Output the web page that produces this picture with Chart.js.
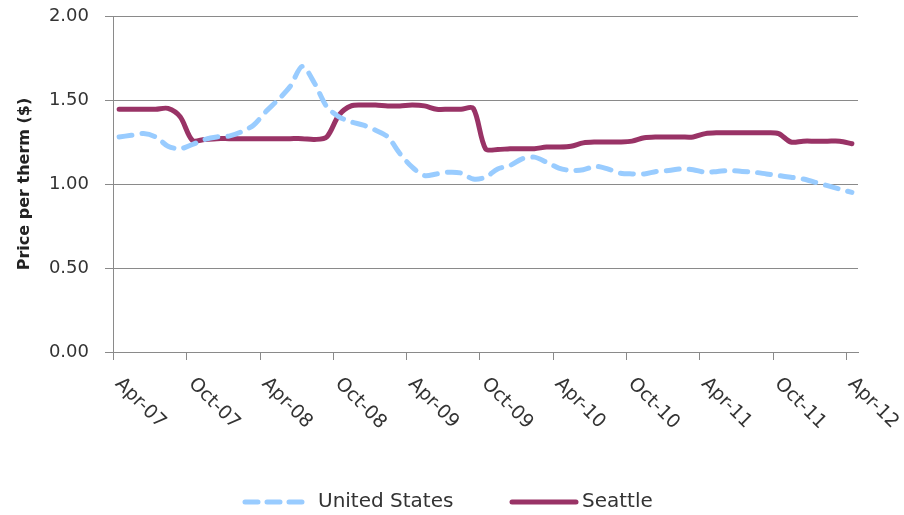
<!DOCTYPE html>
<html>
<head>
    <title>Price per therm</title>
    <script src="https://cdn.jsdelivr.net/npm/chart.js"></script>
    <style>
      body { margin:0; background:#fff; }
      #wrap { width:904px; height:515px; position:relative; }
    </style>
</head>
<body>
  <div id="wrap"><canvas id="lineChart"></canvas></div>
  <script>
    // monthly categories, Apr-07 .. Apr-12
    const months = [
      'Apr-07','May-07','Jun-07','Jul-07','Aug-07','Sep-07','Oct-07','Nov-07','Dec-07','Jan-08','Feb-08','Mar-08',
      'Apr-08','May-08','Jun-08','Jul-08','Aug-08','Sep-08','Oct-08','Nov-08','Dec-08','Jan-09','Feb-09','Mar-09',
      'Apr-09','May-09','Jun-09','Jul-09','Aug-09','Sep-09','Oct-09','Nov-09','Dec-09','Jan-10','Feb-10','Mar-10',
      'Apr-10','May-10','Jun-10','Jul-10','Aug-10','Sep-10','Oct-10','Nov-10','Dec-10','Jan-11','Feb-11','Mar-11',
      'Apr-11','May-11','Jun-11','Jul-11','Aug-11','Sep-11','Oct-11','Nov-11','Dec-11','Jan-12','Feb-12','Mar-12',
      'Apr-12'
    ];

    const unitedStates = [
      1.28, 1.29, 1.30, 1.28, 1.225, 1.21, 1.235, 1.265, 1.28, 1.285, 1.31, 1.35,
      1.43, 1.50, 1.58, 1.70, 1.60, 1.46, 1.40, 1.37, 1.35, 1.32, 1.28, 1.18,
      1.10, 1.05, 1.06, 1.07, 1.065, 1.03, 1.04, 1.09, 1.11, 1.15, 1.16, 1.13,
      1.095, 1.08, 1.085, 1.105, 1.09, 1.065, 1.06, 1.06, 1.075, 1.08, 1.09, 1.085,
      1.07, 1.075, 1.08, 1.075, 1.07, 1.06, 1.05, 1.04, 1.03, 1.01, 0.99, 0.97,
      0.95
    ];

    const seattle = [
      1.445, 1.445, 1.445, 1.445, 1.45, 1.40, 1.26, 1.265, 1.27, 1.27, 1.27, 1.27,
      1.27, 1.27, 1.27, 1.27, 1.265, 1.28, 1.41, 1.465, 1.47, 1.47, 1.465, 1.465,
      1.47, 1.465, 1.445, 1.445, 1.445, 1.45, 1.21, 1.205, 1.21, 1.21, 1.21, 1.22,
      1.22, 1.225, 1.245, 1.25, 1.25, 1.25, 1.255, 1.275, 1.28, 1.28, 1.28, 1.28,
      1.30, 1.305, 1.305, 1.305, 1.305, 1.305, 1.30, 1.25, 1.255, 1.255, 1.255, 1.255,
      1.24
    ];

    const yTicks = [0, 0.5, 1.0, 1.5, 2.0];
    const labelEvery = 6;

    const gridColor = '#8a8a8a';
    const textColor = '#333333';
    const usColor = '#99ccff';
    const seaColor = '#993366';
    const fontFamily = "'DejaVu Sans', sans-serif";

    // x tick marks + slanted labels (Excel style, reading down to the right)
    const xLabelsPlugin = {
      id: 'xLabels',
      afterDraw(chart) {
        const { ctx, chartArea } = chart;
        const x = chart.scales.x;
        const half = (x.getPixelForValue(1) - x.getPixelForValue(0)) / 2;
        ctx.save();
        ctx.strokeStyle = gridColor;
        ctx.lineWidth = 1;
        ctx.fillStyle = textColor;
        ctx.font = '19px ' + fontFamily;
        months.forEach((m, i) => {
          if (i % labelEvery) return;
          const cx = x.getPixelForValue(i);
          const tx = Math.round(cx - half) + 0.5;
          ctx.beginPath();
          ctx.moveTo(tx, chartArea.bottom);
          ctx.lineTo(tx, chartArea.bottom + 8);
          ctx.stroke();
          ctx.save();
          ctx.translate(cx - 1, chartArea.bottom + 29);
          ctx.rotate(Math.PI / 4);
          ctx.textAlign = 'left';
          ctx.textBaseline = 'middle';
          ctx.fillText(m, 0, 0);
          ctx.restore();
        });
        ctx.restore();
      }
    };

    // legend drawn at the bottom like the original
    const legendPlugin = {
      id: 'bottomLegend',
      afterDraw(chart) {
        const { ctx } = chart;
        const y = 502;
        ctx.save();
        ctx.font = '20px ' + fontFamily;
        ctx.fillStyle = textColor;
        ctx.textBaseline = 'middle';
        ctx.lineCap = 'round';

        ctx.strokeStyle = usColor;
        ctx.lineWidth = 5;
        ctx.setLineDash([13, 9]);
        ctx.beginPath(); ctx.moveTo(245, y); ctx.lineTo(305, y); ctx.stroke();
        ctx.setLineDash([]);
        ctx.fillText(chart.data.datasets[0].label, 318, y);

        ctx.strokeStyle = seaColor;
        ctx.lineWidth = 5;
        ctx.beginPath(); ctx.moveTo(512, y); ctx.lineTo(576, y); ctx.stroke();
        ctx.fillText(chart.data.datasets[1].label, 582, y);
        ctx.restore();
      }
    };

    const ctx = document.getElementById('lineChart').getContext('2d');
    const lineChart = new Chart(ctx, {
      type: 'line',
      data: {
        labels: months,
        datasets: [
          {
            label: 'United States',
            data: unitedStates,
            borderColor: usColor,
            borderWidth: 5,
            borderDash: [13, 10],
            borderCapStyle: 'round',
            pointRadius: 0,
            tension: 0.3,
            fill: false
          },
          {
            label: 'Seattle',
            data: seattle,
            borderColor: seaColor,
            borderWidth: 5,
            borderCapStyle: 'round',
            borderJoinStyle: 'round',
            pointRadius: 0,
            tension: 0.3,
            fill: false
          }
        ]
      },
      options: {
        responsive: true,
        maintainAspectRatio: false,
        animation: false,
        layout: { padding: { left: 0, right: 46, top: 16, bottom: 0 } },
        plugins: {
          legend: { display: false },
          tooltip: { enabled: false }
        },
        scales: {
          x: {
            type: 'category',
            offset: true,
            grid: { display: false },
            border: { display: true, color: gridColor, width: 1 },
            ticks: { display: false },
            afterFit: s => { s.height = 163; s.paddingLeft = 0; s.paddingRight = 0; }
          },
          y: {
            min: 0,
            max: 2,
            afterBuildTicks: s => { s.ticks = yTicks.map(v => ({ value: v })); },
            grid: { color: gridColor, lineWidth: 1, drawTicks: true, tickLength: 8 },
            border: { display: true, color: gridColor, width: 1 },
            ticks: {
              padding: 16,
              color: textColor,
              font: { family: fontFamily, size: 18 },
              callback: v => Number(v).toFixed(2)
            },
            title: {
              display: true,
              text: 'Price per therm ($)',
              color: '#222222',
              font: { family: fontFamily, size: 16, weight: 'bold' },
              padding: { top: 15, bottom: 0 }
            },
            afterFit: s => { s.width = 113; s.paddingTop = 0; s.paddingBottom = 0; }
          }
        }
      },
      plugins: [xLabelsPlugin, legendPlugin]
    });
  </script>
</body>
</html>
